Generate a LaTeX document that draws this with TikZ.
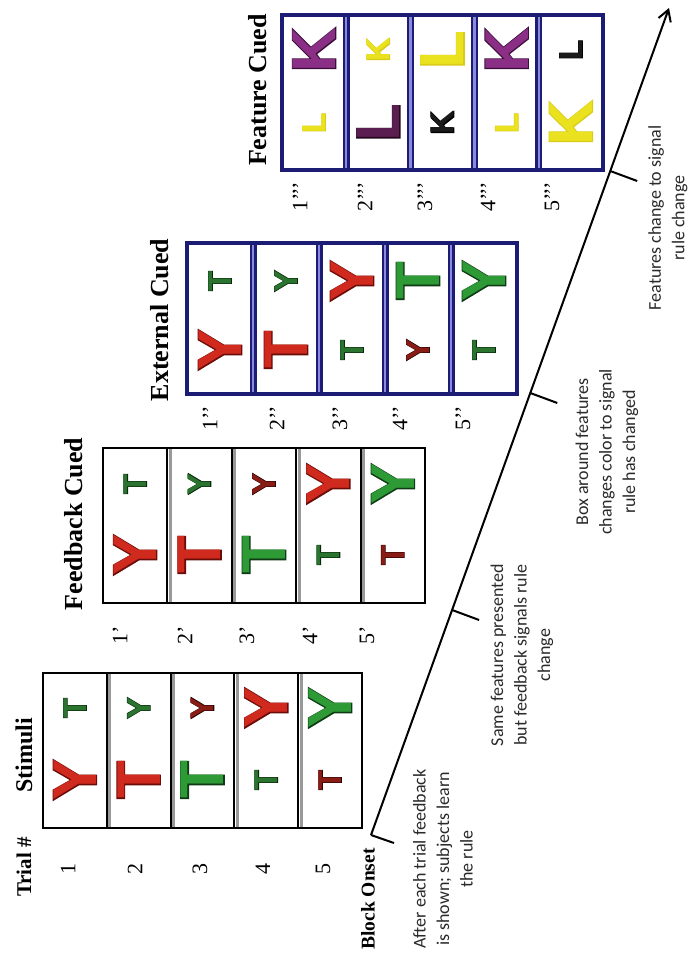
\documentclass[tikz,border=0pt]{standalone}
\usepackage{fontspec}
\setmainfont{Liberation Serif}
\newfontfamily\notefont{Carlito}
\newfontfamily\LS{Liberation Sans Bold}
\newfontfamily\LSO{Liberation Sans Bold}[FakeBold=3]
\usetikzlibrary{arrows.meta}
\definecolor{redF}{HTML}{D02A1E}\definecolor{redE}{HTML}{6A0C08}
\definecolor{grnF}{HTML}{2E9A36}\definecolor{grnE}{HTML}{0E3A16}
\definecolor{dgrF}{HTML}{2A7430}\definecolor{dgrE}{HTML}{0A280C}
\definecolor{drdF}{HTML}{8A1C16}\definecolor{drdE}{HTML}{2A0505}
\definecolor{yelF}{HTML}{EAE21E}\definecolor{yelE}{HTML}{D8CC18}
\definecolor{purF}{HTML}{8A2E86}\definecolor{purE}{HTML}{3A0E38}
\definecolor{dpuF}{HTML}{5A1E50}\definecolor{dpuE}{HTML}{240820}
\definecolor{blkF}{HTML}{1A1A1A}\definecolor{blkE}{HTML}{000000}
\definecolor{navy}{HTML}{1C1C74}
\definecolor{lblue}{HTML}{8A8AE0}
\definecolor{notegray}{HTML}{2A2A2A}
\tikzset{
  bigL/.style={rotate=90, inner sep=0pt, font=\LS\fontsize{62}{62}\selectfont},
  bigO/.style={rotate=90, inner sep=0pt, font=\LSO\fontsize{62}{62}\selectfont},
  smallL/.style={rotate=90, inner sep=0pt, font=\LS\fontsize{33}{33}\selectfont},
  smallO/.style={rotate=90, inner sep=0pt, font=\LSO\fontsize{33}{33}\selectfont},
  ttl/.style={rotate=90, inner sep=0pt, font=\bfseries\fontsize{26}{26}\selectfont},
  num/.style={rotate=90, inner sep=0pt, font=\fontsize{22}{22}\selectfont},
  note/.style={rotate=90, inner sep=0pt, align=center, text=notegray, font=\notefont\fontsize{18}{23.5}\selectfont},
  kframe/.style={draw=black, line width=2pt},
  kdiv/.style={draw=black, line width=2pt},
  gband/.style={draw=black!40, line width=3pt},
  bframe/.style={draw=navy, line width=3.5pt},
  bdiv/.style={draw=navy, line width=7pt},
  bband/.style={draw=lblue, line width=2.5pt},
  axis/.style={line width=2pt, -{Straight Barb[length=11pt,width=13pt]}},
  tickmark/.style={line width=2pt},
}
\newcommand\glyph[7]{%
  \node[#4O, text=#6] (#1o) at (#2,#3) {#7};
  \node[#4L, text=#5] (#1) at (#2,#3) {#7};}
\begin{document}
\begin{tikzpicture}[x=1pt,y=-1pt]
\useasboundingbox[fill=white] (0,0) rectangle (691,957);

% ---------- Stimuli panel ----------
\foreach \x in {106.8,170.6,234.4,298.2}{
  \draw[gband] (\x+2.8,674) -- (\x+2.8,827);
  \draw[kdiv] (\x,673) -- (\x,828);}
\draw[kframe] (43,673) rectangle (362,828);
% ---------- Feedback panel ----------
\foreach \x in {167.4,231.8,296.2,360.6}{
  \draw[gband] (\x+2.8,449) -- (\x+2.8,602);
  \draw[kdiv] (\x,448) -- (\x,603);}
\draw[kframe] (103,448) rectangle (425,603);
% ---------- External panel ----------
\foreach \x in {253,319,385,451}{
  \draw[bdiv] (\x,243) -- (\x,394);
  \draw[bband] (\x,245) -- (\x,392);}
\draw[bframe] (187,243) rectangle (517,394);
% ---------- Feature panel ----------
\foreach \x in {346.2,410.4,474.6,538.8}{
  \draw[bdiv] (\x,15) -- (\x,170);
  \draw[bband] (\x,17) -- (\x,168);}
\draw[bframe] (282,15) rectangle (603,170);

% ---------- Stimuli letters ----------
\glyph{s1a}{74.9}{780}{big}{redF}{redE}{Y}
\glyph{s1b}{74.9}{708}{small}{dgrF}{dgrE}{T}
\glyph{s2a}{138.7}{780}{big}{redF}{redE}{T}
\glyph{s2b}{138.7}{708}{small}{dgrF}{dgrE}{Y}
\glyph{s3a}{202.5}{780}{big}{grnF}{grnE}{T}
\glyph{s3b}{202.5}{708}{small}{drdF}{drdE}{Y}
\glyph{s4a}{266.3}{780}{small}{dgrF}{dgrE}{T}
\glyph{s4b}{266.3}{708}{big}{redF}{redE}{Y}
\glyph{s5a}{330.1}{780}{small}{drdF}{drdE}{T}
\glyph{s5b}{330.1}{708}{big}{grnF}{grnE}{Y}
% ---------- Feedback letters ----------
\glyph{b1a}{135.2}{555}{big}{redF}{redE}{Y}
\glyph{b1b}{135.2}{484}{small}{dgrF}{dgrE}{T}
\glyph{b2a}{199.6}{555}{big}{redF}{redE}{T}
\glyph{b2b}{199.6}{484}{small}{dgrF}{dgrE}{Y}
\glyph{b3a}{264.0}{555}{big}{grnF}{grnE}{T}
\glyph{b3b}{264.0}{484}{small}{drdF}{drdE}{Y}
\glyph{b4a}{328.4}{555}{small}{dgrF}{dgrE}{T}
\glyph{b4b}{328.4}{484}{big}{redF}{redE}{Y}
\glyph{b5a}{392.8}{555}{small}{drdF}{drdE}{T}
\glyph{b5b}{392.8}{484}{big}{grnF}{grnE}{Y}
% ---------- External letters ----------
\glyph{e1a}{220}{350}{big}{redF}{redE}{Y}
\glyph{e1b}{220}{281}{small}{dgrF}{dgrE}{T}
\glyph{e2a}{286}{350}{big}{redF}{redE}{T}
\glyph{e2b}{286}{281}{small}{dgrF}{dgrE}{Y}
\glyph{e3a}{352}{350}{small}{dgrF}{dgrE}{T}
\glyph{e3b}{352}{281}{big}{redF}{redE}{Y}
\glyph{e4a}{418}{350}{small}{drdF}{drdE}{Y}
\glyph{e4b}{418}{281}{big}{grnF}{grnE}{T}
\glyph{e5a}{484}{350}{small}{dgrF}{dgrE}{T}
\glyph{e5b}{484}{281}{big}{grnF}{grnE}{Y}
% ---------- Feature letters ----------
\glyph{f1a}{314.1}{123}{small}{yelF}{yelE}{L}
\glyph{f1b}{314.1}{50}{big}{purF}{purE}{K}
\glyph{f2a}{378.3}{123}{big}{dpuF}{dpuE}{L}
\glyph{f2b}{378.3}{50}{small}{yelF}{yelE}{K}
\glyph{f3a}{442.5}{123}{small}{blkF}{blkE}{K}
\glyph{f3b}{442.5}{50}{big}{yelF}{yelE}{L}
\glyph{f4a}{506.7}{123}{small}{yelF}{yelE}{L}
\glyph{f4b}{506.7}{50}{big}{purF}{purE}{K}
\glyph{f5a}{570.9}{123}{big}{yelF}{yelE}{K}
\glyph{f5b}{570.9}{50}{small}{blkF}{blkE}{L}

% ---------- titles ----------
\node[ttl, font=\bfseries\fontsize{21}{21}\selectfont] (trial) at (24,867) {Trial \#};
\node[ttl, font=\bfseries\fontsize{24}{24}\selectfont] (stim) at (24,755) {Stimuli};
\node[ttl] (fbc) at (74,524) {Feedback Cued};
\node[ttl] (exc) at (160,320) {External Cued};
\node[ttl] (ftc) at (258,90) {Feature Cued};
\node[ttl, font=\bfseries\fontsize{19.5}{19.5}\selectfont] (onset) at (368,899) {Block Onset};

% ---------- trial numbers ----------
\node[num] (n1) at (68,869) {1};
\node[num] (n2) at (135,869) {2};
\node[num] (n3) at (200,869) {3};
\node[num] (n4) at (263,869) {4};
\node[num] (n5) at (323,869) {5};
\node[num] (m1) at (120,635) {1’};
\node[num] (m2) at (185,635) {2’};
\node[num] (m3) at (247,635) {3’};
\node[num] (m4) at (310,635) {4’};
\node[num] (m5) at (367,635) {5’};
\node[num] (p1) at (210,418) {1’’};
\node[num] (p2) at (277,418) {2’’};
\node[num] (p3) at (340,418) {3’’};
\node[num] (p4) at (400,418) {4’’};
\node[num] (p5) at (463,418) {5’’};
\node[num] (q1) at (300,197) {1’’’};
\node[num] (q2) at (365,197) {2’’’};
\node[num] (q3) at (425,197) {3’’’};
\node[num] (q4) at (488,197) {4’’’};
\node[num] (q5) at (552,197) {5’’’};

% ---------- time axis ----------
\coordinate (t0) at (371,835);
\coordinate (t1) at (452.1,610);
\coordinate (t2) at (530.3,393);
\coordinate (t3) at (610.2,171);
\coordinate (tip) at (669,8);
\draw[axis] (t0) -- (tip);
\draw[tickmark] (t0) -- ++(23,8);
\draw[tickmark] (t1) -- ++(27,10);
\draw[tickmark] (t2) -- ++(27,10);
\draw[tickmark] (t3) -- ++(27,10);

% ---------- annotations ----------
\node[note] (a1) at (443,859) {After each trial feedback\\is shown; subjects learn\\the rule};
\node[note] (a2) at (522,655) {Same features presented\\but feedback signals rule\\change};
\node[note] (a3) at (607,452) {Box around features\\changes color to signal\\rule has changed};
\node[note] (a4) at (668,218) {Features change to signal\\rule change};
\end{tikzpicture}
\end{document}
